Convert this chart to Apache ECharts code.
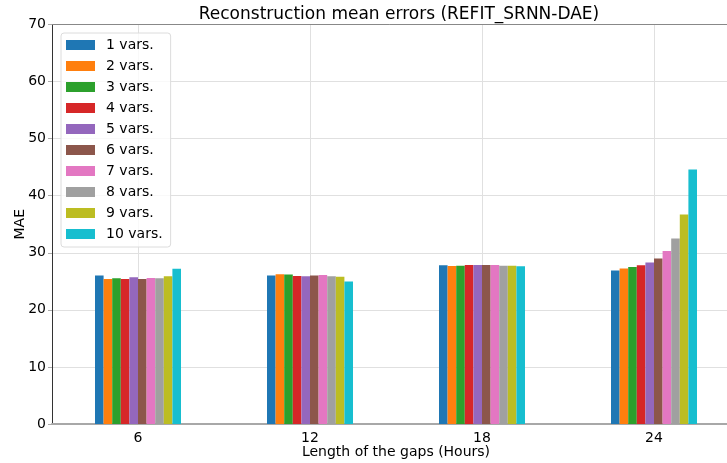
<!DOCTYPE html>
<html><head><meta charset="utf-8">
<script src="https://cdn.jsdelivr.net/npm/echarts@6/dist/echarts.min.js"></script>
<style>html,body{margin:0;padding:0;background:#fff}#c{width:727px;height:463px}</style>
</head><body><div id="c"></div>
<script>
const categories = ['6', '12', '18', '24'];
const seriesNames = ['1 vars.', '2 vars.', '3 vars.', '4 vars.', '5 vars.', '6 vars.', '7 vars.', '8 vars.', '9 vars.', '10 vars.'];
const colors = ['#1f77b4', '#ff7f0e', '#2ca02c', '#d62728', '#9467bd', '#8c564b', '#e377c2', '#a0a0a0', '#bcbd22', '#17becf'];
const vars1 = [26.0, 26.0, 27.8, 26.9];
const vars2 = [25.4, 26.25, 27.7, 27.25];
const vars3 = [25.55, 26.2, 27.75, 27.5];
const vars4 = [25.4, 25.95, 27.85, 27.8];
const vars5 = [25.7, 25.9, 27.85, 28.3];
const vars6 = [25.4, 26.0, 27.85, 29.0];
const vars7 = [25.6, 26.1, 27.85, 30.3];
const vars8 = [25.55, 25.9, 27.75, 32.5];
const vars9 = [25.9, 25.8, 27.75, 36.7];
const vars10 = [27.2, 24.95, 27.65, 44.6];
const yTicks = [0, 10, 20, 30, 40, 50, 60, 70];
const allVals = [vars1, vars2, vars3, vars4, vars5, vars6, vars7, vars8, vars9, vars10];

const font = 'DejaVu Sans';
const series = seriesNames.map((n, i) => ({
  name: n, type: 'bar', data: allVals[i], barGap: '0%', barCategoryGap: '50%',
  itemStyle: { color: colors[i] }
}));

const chart = echarts.init(document.getElementById('c'), null, { renderer: 'canvas' });
chart.setOption({
  animation: false,
  backgroundColor: '#fff',
  title: {
    text: 'Reconstruction mean errors (REFIT_SRNN-DAE)', left: 394, top: 1, textAlign: 'center',
    textStyle: { fontFamily: font, fontSize: 17, fontWeight: 'normal', color: '#000' }
  },
  legend: {
    orient: 'vertical', left: 61, top: 33, itemWidth: 29, itemHeight: 10, itemGap: 7,
    padding: [5, 8, 6, 5], backgroundColor: 'rgba(255,255,255,0.8)', borderColor: '#dcdcdc',
    borderWidth: 1, borderRadius: 3, icon: 'rect',
    textStyle: { fontFamily: font, fontSize: 14, lineHeight: 14, color: '#000', padding: [0, 0, 0, 6] },
    data: seriesNames
  },
  grid: { left: 52, right: -13, top: 24.5, bottom: 39, containLabel: false, outerBoundsMode: 'none' },
  xAxis: [{
    type: 'category', data: categories, position: 'bottom',
    name: 'Length of the gaps (Hours)', nameLocation: 'middle', nameGap: 21, nameMoveOverlap: false,
    nameTextStyle: { fontFamily: font, fontSize: 14, color: '#000' },
    axisLine: { lineStyle: { color: '#a8a8a8', width: 2 } },
    axisTick: { show: false },
    axisLabel: { fontFamily: font, fontSize: 14, color: '#000', margin: 7 },
    splitLine: { show: true, alignWithLabel: true, lineStyle: { color: '#e0e0e0', width: 1 } }
  }, {
    type: 'category', data: categories, position: 'top',
    axisLine: { lineStyle: { color: '#888', width: 1 } },
    axisTick: { show: false }, axisLabel: { show: false }, splitLine: { show: false }
  }],
  yAxis: {
    type: 'value', min: 0, max: 70, interval: 10,
    name: 'MAE', nameLocation: 'middle', nameGap: 25, nameRotate: 90, nameMoveOverlap: false,
    nameTextStyle: { fontFamily: font, fontSize: 14, color: '#000' },
    axisLine: { show: true, lineStyle: { color: '#333', width: 1 } },
    axisTick: { show: true, length: 4, lineStyle: { color: '#aaa' } },
    axisLabel: { fontFamily: font, fontSize: 14, color: '#000', margin: 6,
      formatter: v => yTicks.includes(v) ? String(v) : '' },
    splitLine: { show: true, lineStyle: { color: '#e0e0e0', width: 1 } }
  },
  series: series
});
</script></body></html>
